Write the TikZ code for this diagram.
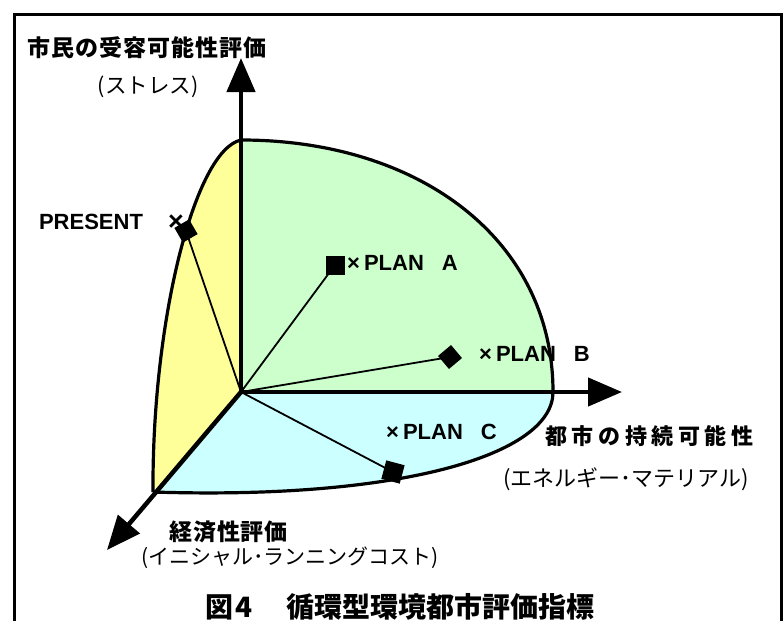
\documentclass[tikz,border=0pt]{standalone}
\usepackage{fontspec}
\setmainfont{Liberation Sans}
\newfontfamily\jp{Noto Sans CJK JP}
\usetikzlibrary{arrows.meta}
\definecolor{pgreen}{HTML}{CCFFCC}
\definecolor{pyellow}{HTML}{FFFF99}
\definecolor{pcyan}{HTML}{CCFFFF}
\begin{document}
\begin{tikzpicture}[x=1pt,y=-1pt,
  axis/.style={line width=4.5pt,-{Triangle[length=34pt,width=28pt]}},
  region/.style={line width=3.2pt,line join=round},
  spoke/.style={line width=1.8pt},
  marker/.style={fill=black,draw=none,rectangle,minimum size=19pt,inner sep=0pt},
  lab/.style={font=\fontsize{22}{24}\selectfont\bfseries,inner sep=0pt},
  jt/.style={font=\jp\bfseries\fontsize{23}{24}\selectfont\addfontfeature{LetterSpace=4},inner sep=0pt},
  js/.style={font=\jp\fontsize{21.5}{23}\selectfont,inner sep=0pt}]
\path[use as bounding box] (0,0) rectangle (784,621);
\draw[line width=3pt] (14,621) -- (14,14) -- (781,14) -- (781,621);
\coordinate (O) at (241,392);
\coordinate (top) at (241,140);
\coordinate (right) at (553,392);
\coordinate (bl) at (153,492);
\coordinate (ytip) at (241,58);
\coordinate (xtip) at (622,392);
\coordinate (ztip) at (107,550);
% regions
\fill[pgreen] (O) -- (top) .. controls (420,140) and (553,240) .. (right) -- cycle;
\fill[pyellow] (O) -- (top) .. controls (195,150) and (152,320) .. (bl) -- cycle;
\fill[pcyan] (O) -- (right) .. controls (553,455) and (400,500) .. (bl) -- cycle;
\draw[region] (top) .. controls (420,140) and (553,240) .. (right);
\draw[region] (top) .. controls (195,150) and (152,320) .. (bl);
\draw[region] (right) .. controls (553,455) and (400,500) .. (bl);
% markers
\node[lab,font=\fontsize{27}{28}\selectfont\bfseries] (presx) at (176,223) {×};
\node[marker,minimum size=17pt,rotate=30] (pres) at (186,231) {};
\node[marker] (pa) at (335,265) {};
\node[marker,minimum size=17pt,rotate=40] (pb) at (450,357) {};
\node[marker,rotate=-15] (pc) at (393,472) {};
\draw[spoke] (O) -- (pres.center);
\draw[spoke] (O) -- (pa.center);
\draw[spoke] (O) -- (pb.center);
\draw[spoke] (O) -- (pc.center);
% axes
\draw[axis] (O) -- (ytip);
\draw[axis] (O) -- (xtip);
\draw[axis] (O) -- (ztip);
% labels
\node[lab] (lpres) at (91,222) {PRESENT};
\node[lab,anchor=west] (la) at (347,263) {×\hspace{4pt}PLAN\hspace{18pt}A};
\node[lab,anchor=west] (lb) at (479,354) {×\hspace{4pt}PLAN\hspace{18pt}B};
\node[lab,anchor=west] (lc) at (386,432) {×\hspace{4pt}PLAN\hspace{18pt}C};
\node[jt] (ty) at (147,48) {市民の受容可能性評価};
\node[js] (sy) at (148,87) {(ストレス)};
\node[jt,font=\jp\bfseries\fontsize{22}{24}\selectfont\addfontfeature{LetterSpace=21},anchor=west] (tx) at (545,436) {都市の持続可能性};
\node[js,font=\jp\fontsize{22}{23}\selectfont] (sx) at (626,479) {(エネルギー･マテリアル)};
\node[jt,anchor=west] (tz) at (169,532) {経済性評価};
\node[js,font=\jp\fontsize{21}{23}\selectfont] (sz) at (290,558) {(イニシャル･ランニングコスト)};
\node[font=\jp\bfseries\fontsize{28}{30}\selectfont,inner sep=0pt,anchor=west] (title) at (205,607) {図\hspace{2pt}4\hspace{34pt}循環型環境都市評価指標};
\end{tikzpicture}
\end{document}
